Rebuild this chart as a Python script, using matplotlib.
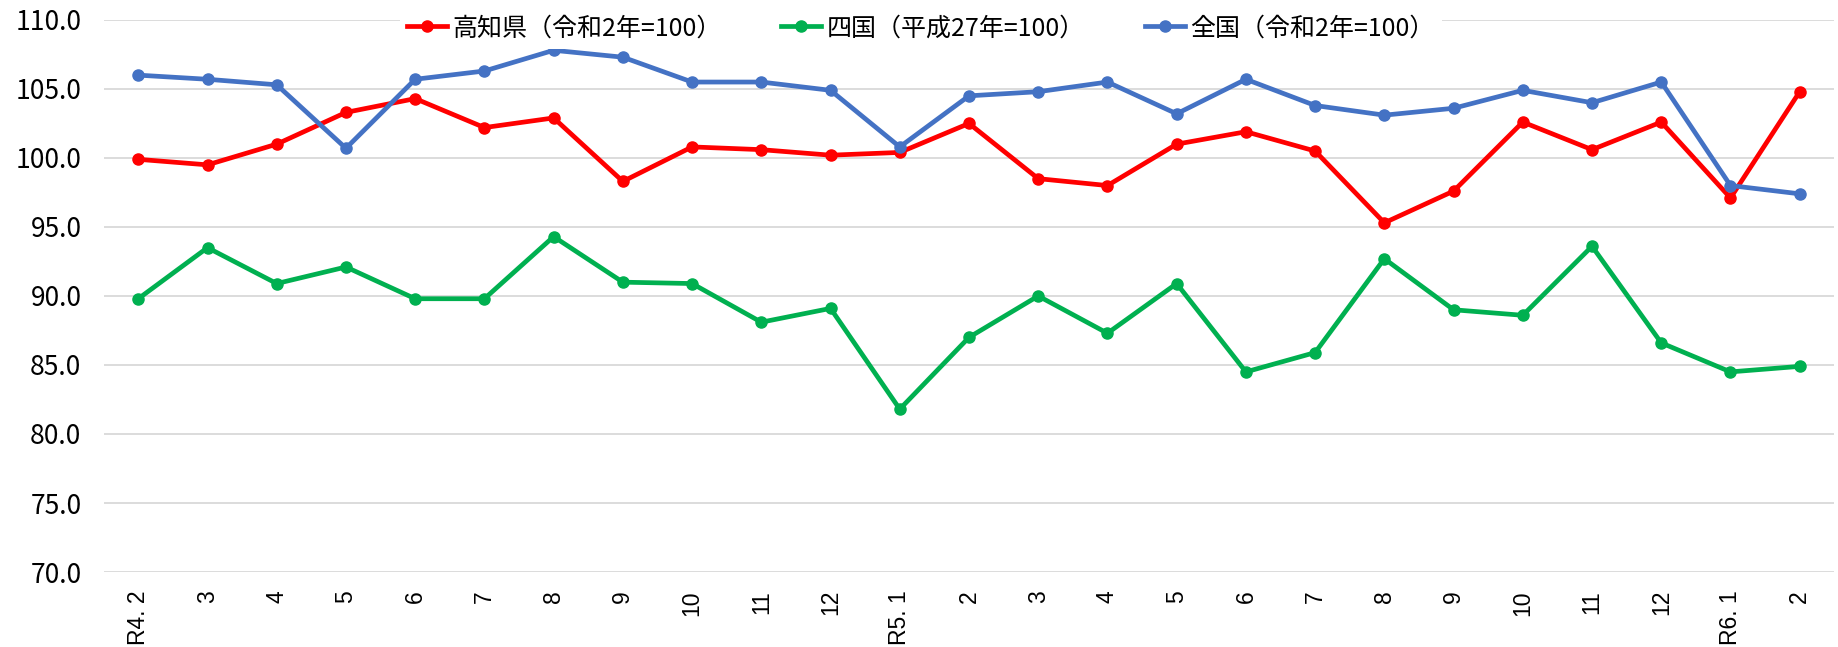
import matplotlib
matplotlib.use('Agg')
import matplotlib.pyplot as plt

plt.rcParams['font.family'] = ['Noto Sans CJK JP', 'DejaVu Sans']

# データ
months = ['R4. 2', '3', '4', '5', '6', '7', '8', '9', '10', '11', '12',
          'R5. 1', '2', '3', '4', '5', '6', '7', '8', '9', '10', '11', '12',
          'R6. 1', '2']

kochi = [99.9, 99.5, 101.0, 103.3, 104.3, 102.2, 102.9, 98.3, 100.8, 100.6, 100.2,
         100.4, 102.5, 98.5, 98.0, 101.0, 101.9, 100.5, 95.3, 97.6, 102.6, 100.6, 102.6,
         97.1, 104.8]
shikoku = [89.8, 93.5, 90.9, 92.1, 89.8, 89.8, 94.3, 91.0, 90.9, 88.1, 89.1,
           81.8, 87.0, 90.0, 87.3, 90.9, 84.5, 85.9, 92.7, 89.0, 88.6, 93.6, 86.6,
           84.5, 84.9]
zenkoku = [106.0, 105.7, 105.3, 100.7, 105.7, 106.3, 107.8, 107.3, 105.5, 105.5, 104.9,
           100.8, 104.5, 104.8, 105.5, 103.2, 105.7, 103.8, 103.1, 103.6, 104.9, 104.0, 105.5,
           98.0, 97.4]

labels = ['高知県（令和2年=100）', '四国（平成27年=100）', '全国（令和2年=100）']
colors = ['#FF0000', '#00B050', '#4472C4']

fig = plt.figure(figsize=(18.38, 6.47), dpi=100)
ax = fig.add_axes([0.0564, 0.1159, 0.9416, 0.8533])

x = list(range(len(months)))
for ys, lab, c in zip([kochi, shikoku, zenkoku], labels, colors):
    ax.plot(x, ys, color=c, lw=3.4, marker='o', ms=8, label=lab, zorder=3)

ax.set_xlim(-0.5, len(months) - 0.5)
ax.set_ylim(70, 110)
ax.set_yticks([70 + 5 * i for i in range(9)])
ax.set_yticklabels(['%.1f' % (70 + 5 * i) for i in range(9)], fontsize=19)
ax.set_xticks(x)
ax.set_xticklabels(months, rotation=90, fontsize=16.5, family=['Liberation Sans', 'DejaVu Sans'])
ax.tick_params(axis='y', length=0, pad=16)
ax.tick_params(axis='x', length=0, pad=13)

ax.grid(axis='y', color='#D9D9D9', lw=1.3, zorder=0)
ax.set_axisbelow(True)
for s in ax.spines.values():
    s.set_visible(False)

leg = ax.legend(loc='center', bbox_to_anchor=(0.472, 0.985), ncol=3, fontsize=18,
                frameon=True, facecolor='white', edgecolor='none', framealpha=1,
                fancybox=False, handlelength=1.6, handletextpad=0.2,
                columnspacing=2.4, borderpad=0.3)
leg.set_zorder(5)

plt.savefig('out.png', dpi=100)
